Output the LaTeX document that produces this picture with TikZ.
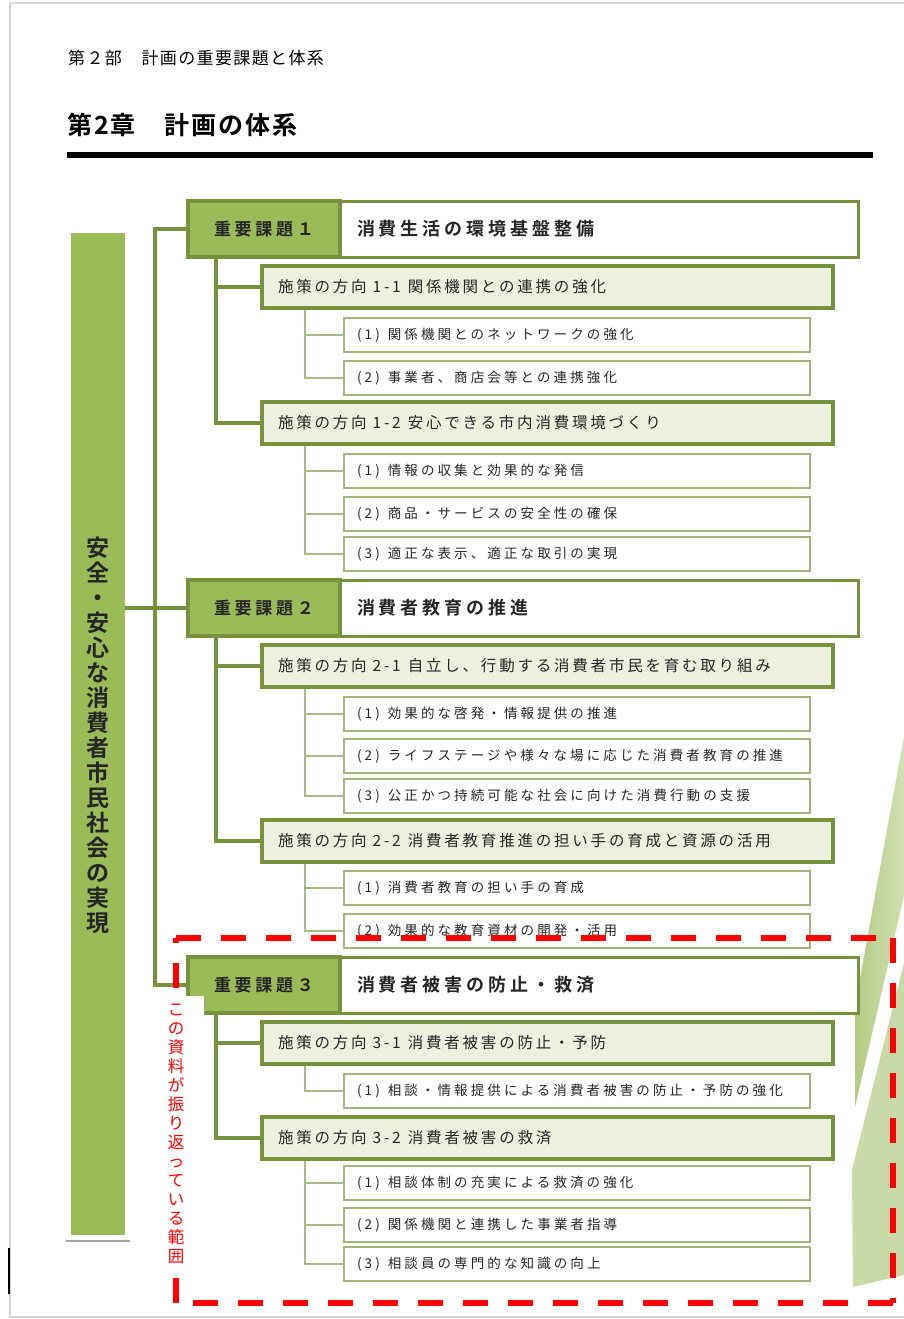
\documentclass[tikz,border=0pt]{standalone}
\usepackage{fontspec}
\setmainfont{Noto Sans CJK JP}[BoldFont={Noto Sans CJK JP Bold}]
\newfontfamily\fhead[LetterSpace=8,BoldFont={Noto Sans CJK JP Bold}]{Noto Sans CJK JP}
\newfontfamily\fkad[LetterSpace=22,BoldFont={Noto Sans CJK JP Bold}]{Noto Sans CJK JP}
\newfontfamily\fshi[LetterSpace=18,BoldFont={Noto Sans CJK JP Bold}]{Noto Sans CJK JP}
\newfontfamily\fitem[LetterSpace=23,BoldFont={Noto Sans CJK JP Bold}]{Noto Sans CJK JP}
\usetikzlibrary{calc}
\pgfdeclarelayer{bg}
\pgfsetlayers{bg,main}
\definecolor{kgreen}{HTML}{9BBB59}
\definecolor{kdark}{HTML}{76923C}
\definecolor{lgreen}{HTML}{EBF1DE}
\definecolor{iborder}{HTML}{A3B57C}
\definecolor{iline}{HTML}{A9BA86}
\definecolor{cA1}{HTML}{B2CA82}
\definecolor{cA2}{HTML}{D2E0B4}
\definecolor{cB}{HTML}{C9DAA8}
\definecolor{txt}{HTML}{262626}
\newcommand\skt[2]{施策の方向\hspace{6pt}#1\hspace{7pt}#2}
\newcommand\itm[2]{(#1)\hspace{8pt}#2}
\tikzset{
 kadaibox/.style={draw=kdark, fill=kgreen, line width=3.5pt, minimum width=152pt, minimum height=56pt, inner sep=0pt, outer sep=0pt, text=txt, font=\fkad\bfseries\fontsize{17}{20}\selectfont},
 titlebox/.style={draw=kdark, fill=white, line width=3pt, text width=484pt, inner xsep=17pt, minimum height=56pt, inner ysep=0pt, outer sep=0pt, align=left, text=txt, font=\fkad\bfseries\fontsize{18}{20}\selectfont},
 shbox/.style={draw=kdark, fill=lgreen, line width=3.5pt, text width=539pt, inner xsep=16pt, minimum height=42pt, inner ysep=0pt, outer sep=0pt, align=left, text=txt, font=\fshi\fontsize{15.5}{18}\selectfont},
 itbox/.style={draw=iborder, fill=white, line width=2.2pt, text width=440pt, inner xsep=13pt, minimum height=34pt, inner ysep=0pt, outer sep=0pt, align=left, text=txt, font=\fitem\fontsize{13.5}{16}\selectfont},
 trunk/.style={draw=kdark, line width=4pt, line join=miter},
 twig/.style={draw=iline, line width=2.5pt, line join=miter},
 reddash/.style={draw=red, line width=5.5pt, dash pattern=on 25pt off 20pt},
}
\begin{document}
\begin{tikzpicture}[x=1pt,y=-1pt]
\useasboundingbox (0,0) rectangle (904,1319);
% header
\node[anchor=west, inner sep=0pt, font=\fhead\fontsize{17}{20}\selectfont] (hdr1) at (68,58) {第２部　計画の重要課題と体系};
\node[anchor=west, inner sep=0pt, font=\fhead\bfseries\fontsize{25}{28}\selectfont] (hdr2) at (67,125) {第2章　計画の体系};
\coordinate (ruleL) at (67,155);
\coordinate (ruleR) at (873,155);
\draw[black, line width=6pt] (ruleL) -- (ruleR);
% left bar
\node[fill=kgreen, minimum width=54pt, minimum height=1002pt, inner sep=0pt, outer sep=0pt] (bar) at (98,734) {};
\node[align=center, inner sep=0pt, text=txt, font=\bfseries\fontsize{23}{25}\selectfont] (bartext) at (98,735) {安\\全\\・\\安\\心\\な\\消\\費\\者\\市\\民\\社\\会\\の\\実\\現};
\coordinate (ulL) at (66,1241);
\coordinate (ulR) at (130,1241);
\draw[gray!70, line width=2pt] (ulL) -- (ulR);
% nodes
\node[kadaibox] (k1) at (264,229) {重要課題１};
\node[titlebox] (t1) at (599,229) {消費生活の環境基盤整備};
\node[shbox] (s11) at (547.5,287) {\skt{1-1}{関係機関との連携の強化}};
\node[itbox] (i111) at (577,335) {\itm{1}{関係機関とのネットワークの強化}};
\node[itbox] (i112) at (577,378) {\itm{2}{事業者、商店会等との連携強化}};
\node[shbox] (s12) at (547.5,423) {\skt{1-2}{安心できる市内消費環境づくり}};
\node[itbox] (i121) at (577,471) {\itm{1}{情報の収集と効果的な発信}};
\node[itbox] (i122) at (577,514) {\itm{2}{商品・サービスの安全性の確保}};
\node[itbox] (i123) at (577,554) {\itm{3}{適正な表示、適正な取引の実現}};
\node[kadaibox] (k2) at (264,608) {重要課題２};
\node[titlebox] (t2) at (599,608) {消費者教育の推進};
\node[shbox] (s21) at (547.5,666) {\skt{2-1}{自立し、行動する消費者市民を育む取り組み}};
\node[itbox] (i211) at (577,714) {\itm{1}{効果的な啓発・情報提供の推進}};
\node[itbox] (i212) at (577,756) {\itm{2}{ライフステージや様々な場に応じた消費者教育の推進}};
\node[itbox] (i213) at (577,796) {\itm{3}{公正かつ持続可能な社会に向けた消費行動の支援}};
\node[shbox] (s22) at (547.5,841) {\skt{2-2}{消費者教育推進の担い手の育成と資源の活用}};
\node[itbox] (i221) at (577,888) {\itm{1}{消費者教育の担い手の育成}};
\node[itbox] (i222) at (577,931) {\itm{2}{効果的な教育資材の開発・活用}};
\node[kadaibox] (k3) at (264,985) {重要課題３};
\node[titlebox] (t3) at (599,985) {消費者被害の防止・救済};
\node[shbox] (s31) at (547.5,1043) {\skt{3-1}{消費者被害の防止・予防}};
\node[itbox] (i311) at (577,1091) {\itm{1}{相談・情報提供による消費者被害の防止・予防の強化}};
\node[shbox] (s32) at (547.5,1138) {\skt{3-2}{消費者被害の救済}};
\node[itbox] (i321) at (577,1183) {\itm{1}{相談体制の充実による救済の強化}};
\node[itbox] (i322) at (577,1225) {\itm{2}{関係機関と連携した事業者指導}};
\node[itbox] (i323) at (577,1264) {\itm{3}{相談員の専門的な知識の向上}};
\begin{pgfonlayer}{bg}
\fill[white] (0,0) rectangle (904,1319);
% page frame
\draw[gray!30, line width=2pt] (10,3) -- (904,3);
\draw[gray!35, line width=2pt] (10,3) -- (10,1317) -- (904,1317);
\draw[black, line width=2pt] (9,1248) -- (9,1294);
% callout shapes
\shade[left color=cA1, right color=cA2] (904,736) -- (855,1006) -- (855,1107) -- (904,896) -- cycle;
\fill[cB] (852,1170) -- (904,963) -- (904,1275) -- (853,1287) -- cycle;
% connectors
\coordinate (tr) at (155,0);
\draw[trunk] (k1.west) -| (tr |- k3.west) -- (k3.west);
\draw[trunk] (bar.east |- k2.west) -- (k2.west);
\coordinate (a1) at ($(k1.south west)+(28,0)$);
\draw[trunk] (a1) |- (s12.west);
\draw[trunk] (a1 |- s11.west) -- (s11.west);
\coordinate (a2) at ($(k2.south west)+(28,0)$);
\draw[trunk] (a2) |- (s22.west);
\draw[trunk] (a2 |- s21.west) -- (s21.west);
\coordinate (a3) at ($(k3.south west)+(28,0)$);
\draw[trunk] (a3) |- (s32.west);
\draw[trunk] (a3 |- s31.west) -- (s31.west);
\coordinate (b11) at ($(s11.south west)+(43,0)$);
\draw[twig] (b11) |- (i112.west);
\draw[twig] (b11 |- i111.west) -- (i111.west);
\coordinate (b12) at ($(s12.south west)+(43,0)$);
\draw[twig] (b12) |- (i123.west);
\draw[twig] (b12 |- i121.west) -- (i121.west);
\draw[twig] (b12 |- i122.west) -- (i122.west);
\coordinate (b21) at ($(s21.south west)+(43,0)$);
\draw[twig] (b21) |- (i213.west);
\draw[twig] (b21 |- i211.west) -- (i211.west);
\draw[twig] (b21 |- i212.west) -- (i212.west);
\coordinate (b22) at ($(s22.south west)+(43,0)$);
\draw[twig] (b22) |- (i222.west);
\draw[twig] (b22 |- i221.west) -- (i221.west);
\coordinate (b31) at ($(s31.south west)+(43,0)$);
\draw[twig] (b31) |- (i311.west);
\coordinate (b32) at ($(s32.south west)+(43,0)$);
\draw[twig] (b32) |- (i323.west);
\draw[twig] (b32 |- i321.west) -- (i321.west);
\draw[twig] (b32 |- i322.west) -- (i322.west);
\end{pgfonlayer}
% red dashed frame
\coordinate (rTL) at (176,938);
\coordinate (rTR) at (893,938);
\coordinate (rBR) at (893,1303);
\coordinate (rBL) at (176,1303);
\draw[reddash] (rBL) -- (rTL);
\draw[reddash] (rTL) -- (rTR);
\draw[reddash] (rTR) -- (rBR);
\draw[reddash] (rBR) -- (rBL);
\fill[white] (160,996) rectangle (204,1278);
\node[align=center, inner sep=0pt, text=red, font=\fontsize{16.5}{19}\selectfont] (redlabel) at (176,1134) {こ\\の\\資\\料\\が\\振\\り\\返\\っ\\て\\い\\る\\範\\囲};
\end{tikzpicture}
\end{document}
